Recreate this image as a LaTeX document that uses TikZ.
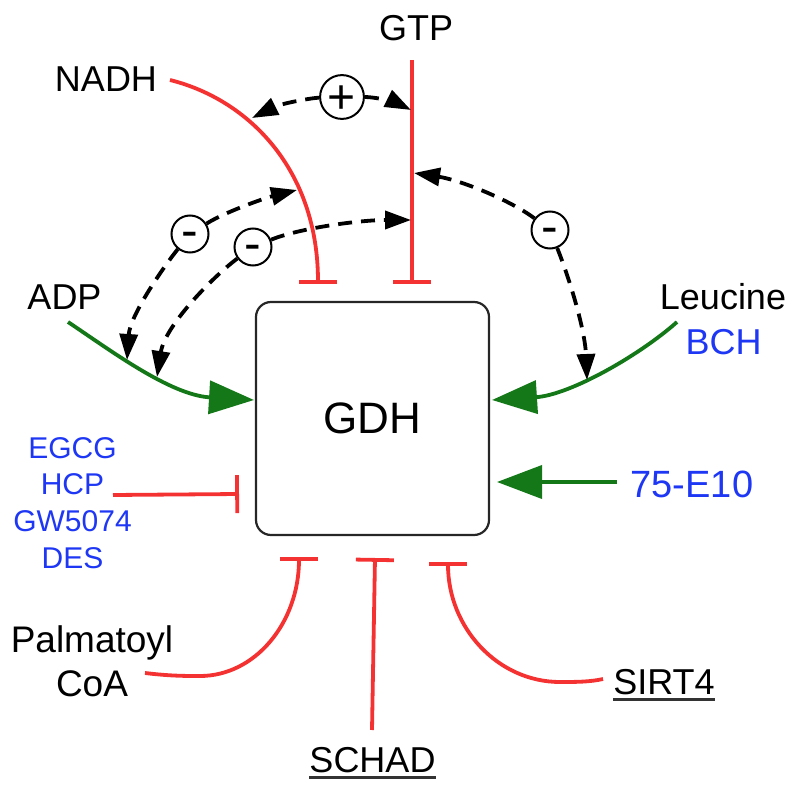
\documentclass[tikz,border=0pt]{standalone}
\usepackage{fontspec}
\setmainfont{Liberation Sans}
\usetikzlibrary{arrows.meta}
\definecolor{inhred}{RGB}{245,50,50}
\definecolor{actgreen}{RGB}{20,120,25}
\definecolor{drugblue}{RGB}{30,55,245}
\newcommand\ulbox[2]{\setbox0\hbox{#2}\leavevmode\rlap{\color{black!80}\rule[#1]{\wd0}{2.8pt}}\box0}
\begin{document}
\begin{tikzpicture}[x=1pt,y=-1pt,
  lbl/.style={font=\fontsize{36}{40}\selectfont, inner sep=0pt, anchor=base},
  inh/.style={draw=inhred, line width=3.8pt, -{Bar[width=38pt]}},
  act/.style={draw=actgreen, line width=3.8pt, -{Triangle[length=45pt,width=33pt]}},
  fb/.style={draw=black, line width=3.8pt, dash pattern=on 14pt off 9pt, -{Triangle[length=26pt,width=18pt]}},
  sgn/.style={circle, draw, line width=2pt, minimum size=37pt, inner sep=0pt, fill=white}
]
\useasboundingbox (0,0) rectangle (800,791);

% central box
\node[draw=black!85, line width=2.2pt, rounded corners=15pt, minimum width=233pt, minimum height=233pt,
      font=\fontsize{44}{48}\selectfont] (gdh) at (372.5,418.5) {GDH};

% labels
\node[lbl] (nadh) at (106,92) {NADH};
\node[lbl] (gtp) at (416,41) {GTP};
\node[lbl] (adp) at (64.5,310) {ADP};
\node[lbl] (leu) at (723,310) {Leucine};
\node[lbl, text=drugblue] (bch) at (723.5,355) {BCH};
\node[lbl, text=drugblue, font=\fontsize{38}{40}\selectfont] (e10) at (692,497) {75-E10};
\node[text=drugblue, align=center, anchor=north, inner sep=0pt, font=\fontsize{30}{36.7}\selectfont] (drugs) at (72.5,437) {EGCG\\HCP\\GW5074\\DES};
\node[anchor=north, inner sep=0pt, align=center, font=\fontsize{37}{44.5}\selectfont] (palm) at (92,625) {Palmatoyl\\CoA};
\node[lbl] (schad) at (372.5,772) {\ulbox{-7pt}{SCHAD}};
\node[lbl] (sirt) at (664,694) {\ulbox{-6.5pt}{SIRT4}};

% sign circles
\node[sgn, font=\fontsize{48}{48}\selectfont, text height=33.9pt, text depth=0pt] (plus) at (342,97) {+};
\node[sgn, font=\fontsize{50}{50}\selectfont, text height=26.6pt, text depth=0pt] (m1) at (190,234) {-};
\node[sgn, font=\fontsize{50}{50}\selectfont, text height=26.6pt, text depth=0pt] (m2) at (253,247) {-};
\node[sgn, font=\fontsize{50}{50}\selectfont, text height=26.6pt, text depth=0pt] (m3) at (550,230) {-};

% connector end points
\coordinate (nadhS) at (170,80);
\coordinate (nadhE) at (318,284);
\coordinate (gtpS) at (412,60);
\coordinate (gtpE) at (412,284);
\coordinate (adpS) at (68,322);
\coordinate (adpE) at (254,400);
\coordinate (leuS) at (677,322);
\coordinate (leuE) at (492,400);
\coordinate (e10S) at (617,482);
\coordinate (e10E) at (497,482);
\coordinate (drugS) at (113,495);
\coordinate (drugE) at (239,494);
\coordinate (palmS) at (145,673);
\coordinate (palmE) at (299,557);
\coordinate (schadS) at (372,730);
\coordinate (schadE) at (375,558);
\coordinate (sirtS) at (603,679);
\coordinate (sirtE) at (448,562);

\coordinate (fbA) at (252,118);
\coordinate (fbB) at (411,110);
\coordinate (fbC) at (297,190);
\coordinate (fbD) at (127,360);
\coordinate (fbE) at (411,220);
\coordinate (fbF) at (157,377);
\coordinate (fbG) at (414,173);
\coordinate (fbH) at (587,380);

% inhibitions
\draw[inh] (nadhS) .. controls (250,100) and (318,171) .. (nadhE);
\draw[inh] (gtpS) -- (gtpE);
\draw[inh] (drugS) -- (drugE);
\draw[inh] (palmS) .. controls (170,676) and (185,676) .. (200,676) .. controls (255,676) and (299,623) .. (palmE);
\draw[inh] (schadS) -- (schadE);
\draw[inh] (sirtS) .. controls (590,682) and (575,682) .. (560,682) .. controls (498,682) and (448,628) .. (sirtE);

% activations
\draw[act] (adpS) .. controls (110,350) and (170,395) .. (adpE);
\draw[act] (leuS) .. controls (640,355) and (570,395) .. (leuE);
\draw[act] (e10S) -- (e10E);

% feedback
\draw[fb] (plus) .. controls (310,98) and (280,104) .. (fbA);
\draw[fb] (plus) .. controls (375,97) and (395,102) .. (fbB);
\draw[fb] (m1) .. controls (225,212) and (265,198) .. (fbC);
\draw[fb] (m1) .. controls (165,265) and (130,315) .. (fbD);
\draw[fb] (m2) .. controls (300,228) and (360,220) .. (fbE);
\draw[fb] (m2) .. controls (215,275) and (165,325) .. (fbF);
\draw[fb] (m3) .. controls (510,200) and (460,180) .. (fbG);
\draw[fb] (m3) .. controls (570,280) and (585,330) .. (fbH);
\end{tikzpicture}
\end{document}
